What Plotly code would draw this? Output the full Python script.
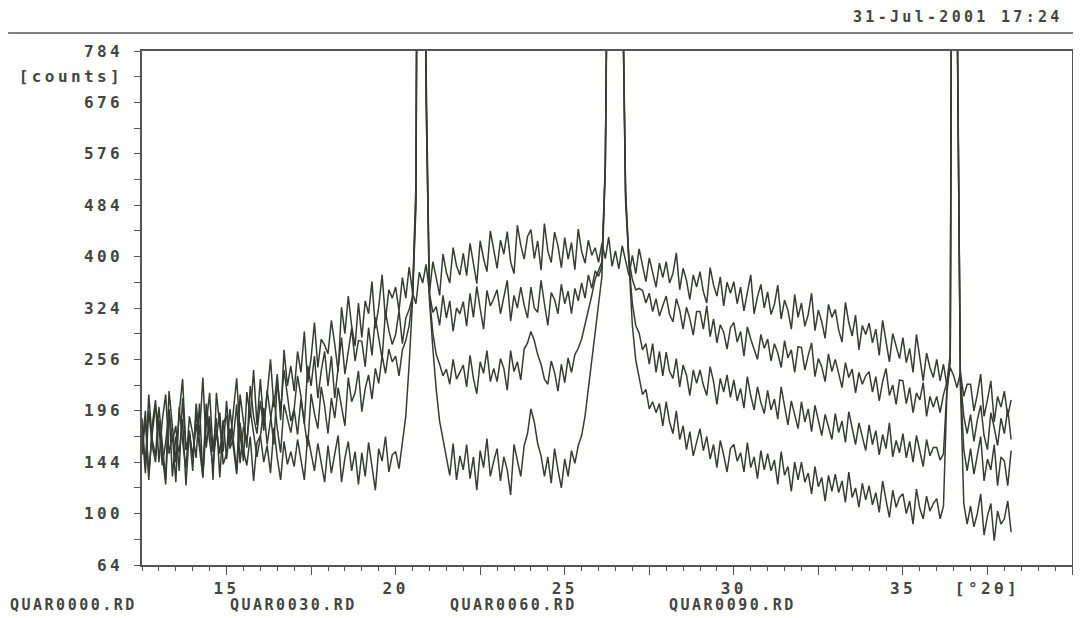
import numpy as np
import plotly.graph_objects as go

# 2-theta sampling grid (degrees)
two_theta = np.round(np.arange(12.5, 38.25, 0.1), 1)

# counts, 0.1 deg steps, one row per degree
quar0000 = (
    [188, 140, 214, 166, 150]
    + [200, 162, 128, 218, 180, 144, 194, 232, 156, 172]
    + [136, 204, 170, 234, 158, 190, 128, 216, 180, 154]
    + [207, 161, 195, 233, 171, 145, 217, 189, 243, 181]
    + [232, 182, 214, 256, 200, 238, 186, 268, 224, 248]
    + [218, 266, 240, 292, 228, 258, 304, 246, 282, 274]
    + [263, 307, 275, 241, 325, 289, 341, 299, 273, 331]
    + [284, 334, 316, 362, 296, 326, 372, 308, 350, 338]
    + [354, 320, 368, 338, 384, 346, 330, 376, 360, 388]
    + [346, 392, 368, 342, 404, 376, 360, 414, 386, 372]
    + [405, 371, 421, 389, 359, 425, 397, 377, 441, 411]
    + [382, 426, 404, 440, 392, 374, 450, 418, 396, 432]
    + [443, 397, 425, 379, 453, 409, 391, 439, 417, 383]
    + [430, 396, 422, 380, 444, 408, 390, 426, 402, 414]
    + [391, 421, 397, 431, 385, 409, 381, 417, 395, 371]
    + [402, 374, 412, 386, 362, 398, 376, 354, 390, 368]
    + [392, 360, 374, 406, 350, 382, 364, 336, 372, 354]
    + [377, 347, 331, 383, 357, 341, 369, 327, 361, 345]
    + [362, 330, 354, 320, 346, 372, 316, 340, 358, 324]
    + [347, 315, 329, 357, 309, 335, 321, 295, 343, 311]
    + [331, 299, 315, 345, 293, 321, 305, 283, 329, 311]
    + [322, 294, 278, 332, 304, 286, 314, 268, 300, 288]
    + [303, 277, 295, 261, 307, 279, 253, 289, 271, 257]
    + [284, 252, 270, 240, 288, 258, 230, 264, 246, 234]
    + [256, 230, 250, 224, 246, 236, 222, 240, 212, 226]
    + [226, 196, 214, 238, 190, 208, 230, 184, 212, 200]
    + [218, 190, 208]
)

quar0030 = (
    [158, 196, 128, 180, 208]
    + [144, 186, 214, 152, 170, 126, 200, 164, 138, 190]
    + [172, 148, 204, 130, 182, 216, 154, 168, 194, 142]
    + [152, 198, 168, 136, 214, 182, 158, 224, 190, 172]
    + [207, 175, 219, 191, 161, 229, 197, 243, 211, 185]
    + [198, 236, 212, 182, 248, 224, 260, 210, 242, 266]
    + [224, 260, 210, 248, 284, 238, 268, 296, 254, 280]
    + [279, 247, 297, 261, 311, 285, 257, 319, 293, 275]
    + [288, 320, 276, 310, 322, 340, 520, 3200, 2600, 750]
    + [345, 318, 326, 300, 342, 310, 334, 292, 324, 316]
    + [333, 299, 345, 311, 355, 323, 295, 349, 327, 337]
    + [350, 316, 338, 364, 306, 342, 324, 354, 328, 310]
    + [354, 324, 318, 364, 330, 300, 346, 336, 316, 358]
    + [330, 348, 316, 352, 334, 360, 338, 372, 352, 378]
    + [370, 385, 550, 1300, 4000, 4500, 3500, 1000, 500, 395]
    + [365, 350, 352, 349, 331, 345, 319, 337, 313, 327]
    + [341, 315, 305, 337, 321, 295, 325, 309, 287, 319]
    + [319, 295, 327, 285, 309, 277, 301, 291, 269, 297]
    + [304, 278, 292, 260, 298, 282, 268, 256, 288, 270]
    + [282, 254, 276, 264, 246, 280, 258, 268, 240, 272]
    + [271, 243, 261, 277, 235, 257, 247, 229, 263, 241]
    + [256, 238, 222, 252, 234, 244, 216, 240, 226, 236]
    + [241, 217, 235, 207, 229, 245, 213, 225, 203, 231]
    + [230, 204, 222, 194, 216, 208, 228, 190, 212, 200]
    + [212, 194, 214, 228, 262, 3500, 950, 232, 190, 172]
    + [192, 164, 186, 202, 170, 156, 194, 178, 160, 188]
    + [172, 198, 166]
)

quar0060 = (
    [178, 134, 196, 160, 144]
    + [186, 152, 124, 198, 164, 180, 136, 210, 156, 172]
    + [148, 192, 166, 134, 204, 174, 158, 188, 130, 182]
    + [191, 157, 167, 203, 143, 179, 165, 197, 173, 149]
    + [169, 199, 161, 189, 213, 177, 153, 203, 187, 173]
    + [197, 171, 209, 183, 159, 215, 193, 177, 223, 201]
    + [172, 210, 188, 222, 198, 180, 234, 206, 216, 242]
    + [195, 221, 237, 209, 245, 227, 261, 239, 269, 253]
    + [260, 236, 268, 280, 300, 340, 500, 2800, 2300, 700]
    + [340, 290, 262, 250, 236, 244, 226, 256, 232, 240]
    + [249, 223, 261, 233, 215, 253, 239, 267, 229, 245]
    + [229, 257, 245, 219, 267, 241, 253, 231, 269, 277]
    + [292, 280, 262, 250, 232, 226, 254, 240, 218, 250]
    + [228, 258, 240, 262, 270, 282, 300, 320, 342, 366]
    + [380, 392, 560, 1250, 3800, 4200, 3300, 980, 490, 390]
    + [330, 300, 290, 268, 276, 250, 276, 240, 266, 236]
    + [265, 241, 233, 257, 223, 249, 237, 213, 243, 227]
    + [243, 225, 213, 247, 229, 203, 233, 217, 237, 211]
    + [231, 207, 221, 199, 235, 213, 197, 223, 205, 193]
    + [219, 197, 209, 187, 223, 201, 181, 207, 193, 177]
    + [206, 184, 198, 174, 202, 186, 170, 192, 180, 166]
    + [193, 173, 185, 163, 195, 177, 161, 183, 167, 155]
    + [181, 161, 175, 151, 171, 157, 183, 149, 165, 153]
    + [172, 148, 164, 144, 170, 154, 140, 166, 150, 158]
    + [158, 146, 152, 220, 258, 3200, 900, 228, 156, 136]
    + [157, 133, 151, 169, 127, 147, 137, 161, 123, 149]
    + [145, 123, 155]
)

quar0090 = (
    [151, 187, 133, 171, 201]
    + [179, 141, 163, 197, 131, 169, 153, 187, 123, 175]
    + [148, 182, 158, 130, 194, 164, 140, 176, 152, 186]
    + [147, 177, 159, 133, 183, 155, 141, 169, 127, 163]
    + [170, 144, 160, 134, 178, 148, 128, 164, 142, 154]
    + [140, 166, 148, 128, 170, 154, 136, 162, 144, 126]
    + [160, 134, 152, 170, 126, 148, 164, 136, 154, 124]
    + [153, 131, 163, 141, 119, 157, 145, 169, 135, 151]
    + [154, 138, 162, 190, 250, 335, 480, 2500, 2100, 680]
    + [335, 270, 220, 185, 166, 148, 132, 162, 128, 150]
    + [137, 161, 129, 149, 119, 155, 139, 167, 131, 145]
    + [157, 127, 149, 137, 115, 161, 145, 131, 160, 172]
    + [198, 184, 162, 150, 131, 149, 125, 157, 137, 121]
    + [147, 131, 155, 143, 160, 170, 190, 222, 252, 292]
    + [330, 370, 550, 1200, 3600, 4000, 3100, 1020, 510, 390]
    + [300, 255, 236, 214, 220, 198, 206, 194, 204, 180]
    + [206, 184, 172, 196, 166, 180, 156, 174, 150, 164]
    + [177, 155, 169, 147, 161, 139, 165, 151, 135, 157]
    + [161, 145, 153, 135, 163, 139, 149, 129, 155, 137]
    + [152, 136, 146, 124, 154, 132, 140, 118, 144, 128]
    + [144, 126, 134, 116, 140, 122, 130, 110, 132, 118]
    + [133, 117, 127, 109, 135, 113, 121, 105, 125, 111]
    + [123, 107, 117, 101, 127, 111, 97, 119, 105, 113]
    + [116, 100, 110, 92, 120, 104, 96, 114, 102, 108]
    + [112, 96, 106, 215, 255, 3000, 920, 225, 108, 92]
    + [106, 90, 100, 116, 84, 98, 108, 80, 102, 92]
    + [96, 110, 86]
)

series_names = ["QUAR0000.RD", "QUAR0030.RD", "QUAR0060.RD", "QUAR0090.RD"]
series_values = [quar0000, quar0030, quar0060, quar0090]

x_tick_vals = [15, 17.5, 20, 22.5, 25, 27.5, 30, 32.5, 35, 37.5, 40]
x_tick_text = ["15", "", "20", "", "25", "", "30", "", "35", "[°2θ]", "40"]
y_tick_counts = [64, 81, 100, 121, 144, 169, 196, 225, 256, 289, 324, 361,
                 400, 441, 484, 529, 576, 625, 676, 729, 784]
y_tick_text = ["64", "", "100", "", "144", "", "196", "", "256", "", "324", "",
               "400", "", "484", "", "576", "", "676", "[counts]", "784"]
date_text = "31-Jul-2001 17:24"

LINE = "#383c31"
TXT = "#45453f"
AX = "#555555"
FONT = "DejaVu Sans Mono"


def sp(s, ls=3.4):
    if not s:
        return s
    return f'<span style="letter-spacing:{ls}px">{s}</span>'


fig = go.Figure()
for name, vals in zip(series_names[::-1], series_values[::-1]):
    assert len(vals) == len(two_theta), (name, len(vals))
    fig.add_trace(go.Scatter(
        x=two_theta, y=np.sqrt(np.array(vals, dtype=float)), mode="lines",
        name=name, line=dict(color=LINE, width=1.5), showlegend=False,
    ))

tickfont = dict(family=FONT, size=16, color=TXT, weight="bold")

# the page body adds an 8px offset; margins compensate for it
fig.update_layout(
    width=1073, height=610,
    margin=dict(l=134, r=9, t=43, b=53, autoexpand=False),
    paper_bgcolor="white", plot_bgcolor="white",
    xaxis=dict(
        range=[12.5, 40], showgrid=False, zeroline=False, automargin=False,
        showline=True, linecolor=AX, linewidth=1.5, mirror=True,
        tickmode="array", tickvals=x_tick_vals,
        ticktext=[sp(t) for t in x_tick_text],
        ticks="outside", ticklen=8, tickwidth=1.2, tickcolor=AX,
        tickfont=tickfont,
        minor=dict(dtick=0.5, tick0=12.5, ticks="outside", ticklen=4,
                   tickwidth=1, tickcolor=AX),
    ),
    yaxis=dict(
        range=[8, 28], showgrid=False, zeroline=False, automargin=False,
        showline=True, linecolor=AX, linewidth=1.5, mirror=True,
        tickmode="array", tickvals=np.sqrt(y_tick_counts),
        ticktext=[sp(t) for t in y_tick_text],
        ticks="outside", ticklen=6, tickwidth=1.2, tickcolor=AX,
        tickfont=tickfont, ticklabelstandoff=8,
    ),
)

# header rule and date
fig.add_shape(type="line", xref="paper", yref="paper",
              x0=-0.144, x1=1.0065, y0=1.035, y1=1.035,
              line=dict(color="#555555", width=1.5))
fig.add_annotation(xref="paper", yref="paper", x=0.9925, y=1.066,
                   xanchor="right", yanchor="middle", showarrow=False,
                   text=sp(date_text, 3.3),
                   font=dict(family=FONT, size=15, color=TXT, weight="bold"))

# file names below the chart
name_x = [-0.1441, 0.0925, 0.3290, 0.5645]
for nx, nm in zip(name_x, series_names):
    fig.add_annotation(xref="paper", yref="paper", x=nx, y=-0.078,
                       xanchor="left", yanchor="middle", showarrow=False,
                       text=sp(nm, 2.5),
                       font=dict(family=FONT, size=15, color=TXT, weight="bold"))

fig.write_html("out.html")
